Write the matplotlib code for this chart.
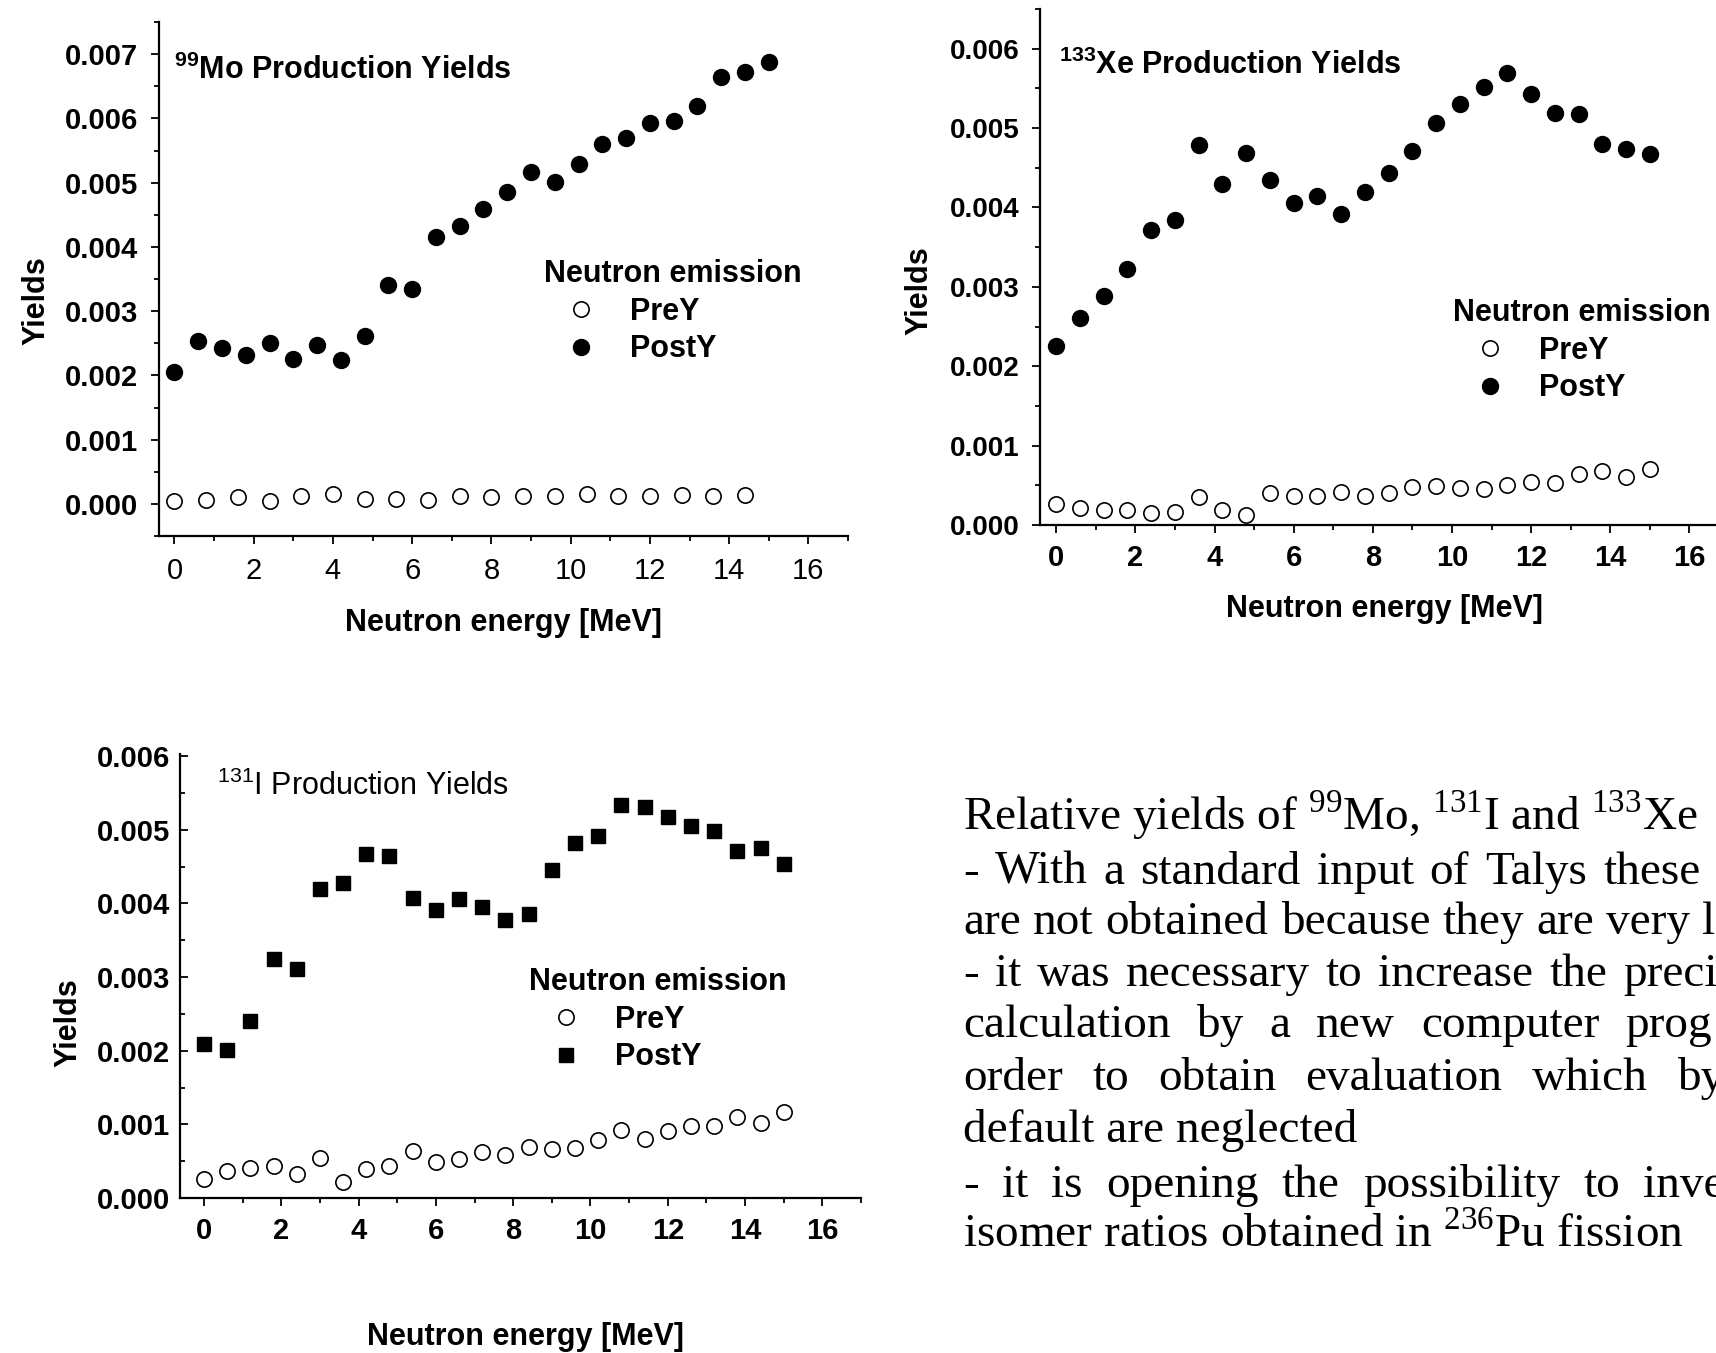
import matplotlib
matplotlib.use('Agg')
import matplotlib.pyplot as plt
from matplotlib.ticker import MultipleLocator

plt.rcParams['font.family'] = ['Liberation Sans', 'DejaVu Sans']
plt.rcParams['mathtext.fontset'] = 'custom'
plt.rcParams['mathtext.rm'] = 'Liberation Serif'
plt.rcParams['mathtext.sf'] = 'Liberation Sans'
plt.rcParams['mathtext.bf'] = 'Liberation Sans:bold'

# ---- data (yields) ----
e_step06 = [0.0, 0.6, 1.2, 1.8, 2.4, 3.0, 3.6, 4.2, 4.8, 5.4, 6.0, 6.6, 7.2,
            7.8, 8.4, 9.0, 9.6, 10.2, 10.8, 11.4, 12.0, 12.6, 13.2, 13.8, 14.4, 15.0]
e_step08 = [0.0, 0.8, 1.6, 2.4, 3.2, 4.0, 4.8, 5.6, 6.4, 7.2, 8.0, 8.8, 9.6,
            10.4, 11.2, 12.0, 12.8, 13.6, 14.4]

mo_post = [2.06, 2.54, 2.43, 2.32, 2.50, 2.26, 2.48, 2.24, 2.62, 3.41, 3.34, 4.15, 4.32,
           4.59, 4.85, 5.17, 5.01, 5.29, 5.60, 5.70, 5.93, 5.96, 6.19, 6.65, 6.72, 6.87]
mo_pre = [0.04, 0.06, 0.10, 0.04, 0.12, 0.16, 0.08, 0.08, 0.06, 0.13, 0.10, 0.13, 0.13,
          0.15, 0.13, 0.13, 0.14, 0.13, 0.14]

xe_post = [2.25, 2.61, 2.88, 3.23, 3.72, 3.84, 4.79, 4.30, 4.68, 4.34, 4.05, 4.14, 3.92,
           4.20, 4.43, 4.71, 5.07, 5.30, 5.52, 5.70, 5.43, 5.19, 5.18, 4.80, 4.74, 4.67]
xe_pre = [0.26, 0.21, 0.19, 0.19, 0.15, 0.16, 0.35, 0.19, 0.13, 0.40, 0.36, 0.37, 0.41,
          0.37, 0.40, 0.48, 0.49, 0.46, 0.45, 0.50, 0.54, 0.53, 0.64, 0.68, 0.61, 0.71]

i_post = [2.09, 2.01, 2.40, 3.24, 3.11, 4.20, 4.28, 4.67, 4.64, 4.08, 3.91, 4.06, 3.95,
          3.77, 3.86, 4.46, 4.82, 4.92, 5.34, 5.31, 5.18, 5.05, 4.98, 4.71, 4.75, 4.53]
i_pre = [0.26, 0.36, 0.41, 0.43, 0.33, 0.55, 0.22, 0.40, 0.43, 0.64, 0.49, 0.53, 0.63,
         0.58, 0.69, 0.66, 0.68, 0.79, 0.92, 0.80, 0.91, 0.98, 0.98, 1.10, 1.02, 1.17]

x_ticks = [0, 2, 4, 6, 8, 10, 12, 14, 16]
y_ticks_mo = [0.000, 0.001, 0.002, 0.003, 0.004, 0.005, 0.006, 0.007]
y_ticks_xe = [0.000, 0.001, 0.002, 0.003, 0.004, 0.005, 0.006]
y_ticks_i = [0.000, 0.001, 0.002, 0.003, 0.004, 0.005, 0.006]

W, H = 1716, 1353
fig = plt.figure(figsize=(W / 100, H / 100), dpi=100)


def rect(l, t, r, b):
    return [l / W, 1 - b / H, (r - l) / W, (b - t) / H]


def k(v):
    return [a / 1000 for a in v]


def style(ax, xlim, ylim, yticks, xbold, ydir, ypad, xpad, ysize=21):
    ax.set_xlim(*xlim)
    ax.set_ylim(*ylim)
    for s in ('top', 'right'):
        ax.spines[s].set_visible(False)
    for s in ('left', 'bottom'):
        ax.spines[s].set_linewidth(1.6)
    ax.set_xticks(x_ticks)
    ax.set_xticklabels([str(t) for t in x_ticks],
                       fontweight='bold' if xbold else 'normal', fontsize=21)
    ax.set_yticks(yticks)
    ax.set_yticklabels(['%.3f' % t for t in yticks], fontweight='bold', fontsize=ysize)
    ax.xaxis.set_minor_locator(MultipleLocator(1))
    ax.yaxis.set_minor_locator(MultipleLocator(0.0005))
    ax.tick_params(which='both', width=1.3)
    ax.tick_params(which='major', length=6)
    ax.tick_params(which='minor', length=3.5)
    ax.tick_params(axis='x', which='both', direction='out', pad=xpad)
    ax.tick_params(axis='y', which='both', direction=ydir, pad=ypad)
    ax.patch.set_alpha(0)


def scatter(ax, pre_x, pre_y, post_x, post_y, post_marker, post_ms):
    ax.plot(pre_x, k(pre_y), 'o', ls='none', ms=11, mfc='white', mec='black',
            mew=1.2, label='PreY', clip_on=False)
    ax.plot(post_x, k(post_y), post_marker, ls='none', ms=post_ms, color='black',
            label='PostY', clip_on=False)


def legend(ax, left, top):
    ax.legend(loc='upper left', bbox_to_anchor=(left / W, 1 - top / H),
              bbox_transform=fig.transFigure, frameon=False,
              title='Neutron emission', alignment='left', borderpad=0,
              borderaxespad=0, handlelength=2.45, handletextpad=0.36,
              labelspacing=0.25, numpoints=1,
              prop={'weight': 'bold', 'size': 22},
              title_fontproperties={'weight': 'bold', 'size': 22})


lab = {'fontsize': 22, 'fontweight': 'bold'}

# ---- 99Mo ----
ax1 = fig.add_axes(rect(159, 22, 848, 536))
scatter(ax1, e_step08, mo_pre, e_step06, mo_post, 'o', 11.5)
style(ax1, (-0.39, 17.0), (-0.0005, 0.0075), y_ticks_mo, False, 'out', 9, 9)
ax1.set_xlabel('Neutron energy [MeV]', **lab)
ax1.set_ylabel('Yields', va='center', **lab)
ax1.xaxis.set_label_coords(0.50, -0.140)
ax1.yaxis.set_label_coords(-0.178, 0.457)
ax1.text((174 - 159) / 689, (536 - 70) / 514, r'$^{\mathbf{99}}$Mo Production Yields',
         transform=ax1.transAxes, va='center', **lab)
legend(ax1, 544, 259)

# ---- 133Xe ----
ax2 = fig.add_axes(rect(1040, 9, 1729, 525))
scatter(ax2, e_step06, xe_pre, e_step06, xe_post, 'o', 11.5)
style(ax2, (-0.41, 17.0), (0, 0.0065), y_ticks_xe, True, 'out', 9, 8, 20)
ax2.set_xlabel('Neutron energy [MeV]', **lab)
ax2.set_ylabel('Yields', va='center', **lab)
ax2.xaxis.set_label_coords(0.50, -0.134)
ax2.yaxis.set_label_coords(-0.175, 0.455)
ax2.text((1059 - 1040) / 689, (525 - 65) / 516, r'$^{\mathbf{133}}$Xe Production Yields',
         transform=ax2.transAxes, va='center', **lab)
legend(ax2, 1453, 298)

# ---- 131I ----
ax3 = fig.add_axes(rect(180, 754, 861, 1198))
scatter(ax3, e_step06, i_pre, e_step06, i_post, 's', 10)
style(ax3, (-0.62, 17.0), (0, 0.00603), y_ticks_i, True, 'in', 7, 8)
ax3.set_xlabel('Neutron energy [MeV]', **lab)
ax3.set_ylabel('Yields', va='center', **lab)
ax3.xaxis.set_label_coords(0.507, -0.279)
ax3.yaxis.set_label_coords(-0.164, 0.394)
ax3.text((217 - 180) / 681, (1198 - 786) / 444, r'$^{\mathsf{131}}$I Production Yields',
         transform=ax3.transAxes, va='center', fontsize=22)
legend(ax3, 529, 967)

# ---- text block ----
serif = {'family': ['Liberation Serif', 'DejaVu Serif'], 'fontsize': 34}
renderer = fig.canvas.get_renderer()
x0 = 963


def line(text, y):
    fig.text(x0 / W, 1 - y / H, text, va='baseline', ha='left', **serif)


def justified(text, y, x_last):
    words = text.split(' ')
    widths = []
    for w in words:
        t = fig.text(0, 0, w, **serif)
        widths.append(t.get_window_extent(renderer).width)
        t.remove()
    gap = (x_last - x0 - sum(widths[:-1])) / (len(words) - 1)
    x = x0
    for w, wd in zip(words, widths):
        fig.text(x / W, 1 - y / H, w, va='baseline', ha='left', **serif)
        x += wd + gap


line(r'Relative yields of $^{\mathrm{99}}$Mo, $^{\mathrm{131}}$I and $^{\mathrm{133}}$Xe', 830)
justified('- With a standard input of Talys these', 884, 1603)
justified('are not obtained because they are very l', 934, 1702)
justified('- it was necessary to increase the preci', 986, 1623)
justified('calculation by a new computer prog', 1037, 1625)
justified('order to obtain evaluation which by', 1090, 1677)
line('default are neglected', 1142)
justified('- it is opening the possibility to inve', 1197, 1643)
line(r'isomer ratios obtained in $^{\mathrm{236}}$Pu fission', 1247)

fig.savefig('out.png', dpi=100)
